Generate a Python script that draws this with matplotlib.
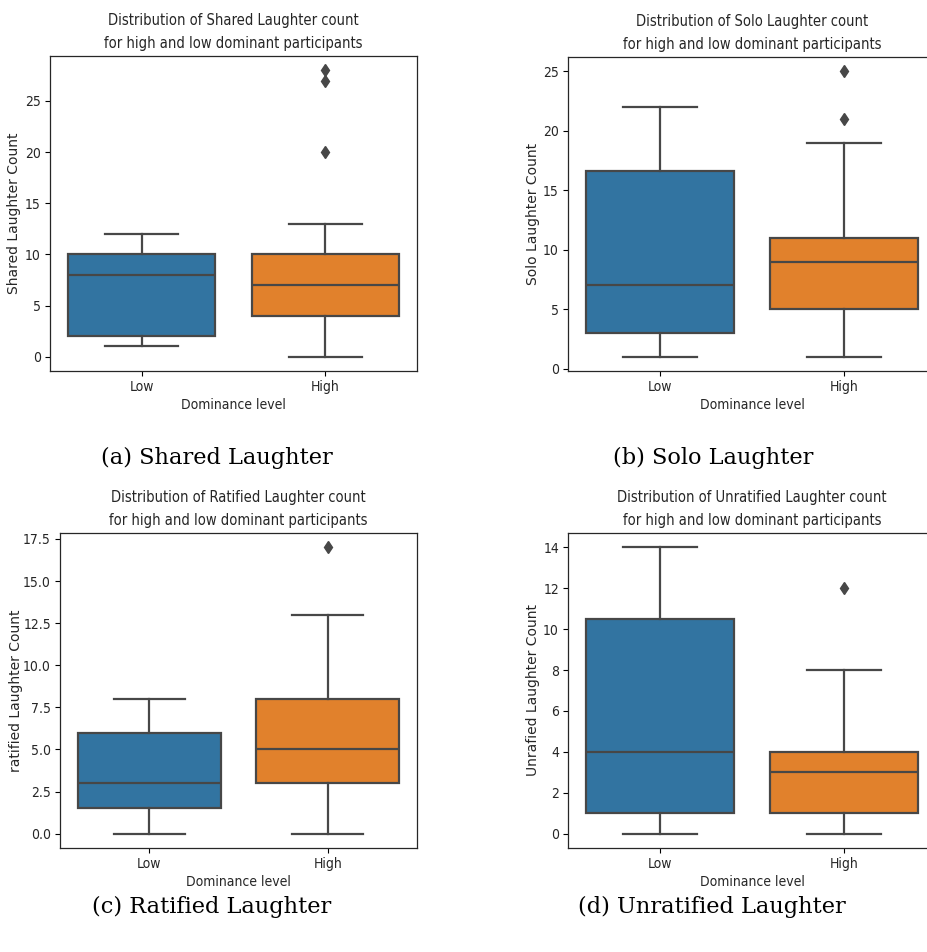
import matplotlib
matplotlib.use("Agg")
import matplotlib.pyplot as plt

plt.rcParams["font.family"] = "DejaVu Sans"
plt.rcParams["font.stretch"] = "condensed"

W, H = 928, 952

GROUPS = ["Low", "High"]
COLORS = ["#3274a1", "#e1812c"]
GRAY = "#474747"

# per group: whisker low, q1, median, q3, whisker high
shared_stats = [[1, 2, 8, 10, 12], [0, 4, 7, 10, 13]]
shared_fliers = [[], [20, 27, 28]]
solo_stats = [[1, 3, 7, 16.6, 22], [1, 5, 9, 11, 19]]
solo_fliers = [[], [21, 25]]
ratified_stats = [[0, 1.5, 3, 6, 8], [0, 3, 5, 8, 13]]
ratified_fliers = [[], [17]]
unratified_stats = [[0, 1, 4, 10.5, 14], [0, 1, 3, 4, 8]]
unratified_fliers = [[], [12]]


def px_axes(fig, left, top, right, bottom):
    return fig.add_axes([left / W, (H - bottom) / H, (right - left) / W, (bottom - top) / H])


def draw_box(ax, stats, fliers, name, ylabel, ylab_x):
    boxes = []
    for s, f, g in zip(stats, fliers, GROUPS):
        boxes.append(dict(whislo=s[0], q1=s[1], med=s[2], q3=s[3], whishi=s[4], fliers=f, label=g))
    lp = dict(color=GRAY, linewidth=1.6)
    art = ax.bxp(boxes, positions=[0, 1], widths=0.8, patch_artist=True,
                 boxprops=dict(edgecolor=GRAY, linewidth=1.6),
                 whiskerprops=lp, capprops=lp, medianprops=lp,
                 flierprops=dict(marker="d", markerfacecolor=GRAY, markeredgecolor=GRAY, markersize=6))
    for patch, c in zip(art["boxes"], COLORS):
        patch.set_facecolor(c)
    ax.set_xlim(-0.5, 1.5)
    ax.set_title(f"Distribution of {name} Laughter count\nfor high and low dominant participants",
                 fontsize=10.5, color="#262626", linespacing=1.65, pad=6)
    ax.set_xlabel("Dominance level", fontsize=10, color="#262626", labelpad=3)
    ax.set_ylabel(ylabel, fontsize=10, color="#262626", fontstretch="normal")
    # label position in pixels left of the spine
    bbox = ax.get_position()
    ax.yaxis.set_label_coords(ylab_x / (bbox.width * W), 0.5)
    ax.tick_params(length=3.5, width=0.8, labelsize=10, labelcolor="#262626", pad=3)
    for sp in ax.spines.values():
        sp.set_linewidth(0.9)
        sp.set_color("#262626")


fig = plt.figure(figsize=(W / 100, H / 100), dpi=100)

ax_a = px_axes(fig, 50, 56, 417, 371)
draw_box(ax_a, shared_stats, shared_fliers, "Shared", "Shared Laughter Count", -29)
ax_b = px_axes(fig, 568, 57, 936, 371)
draw_box(ax_b, solo_stats, solo_fliers, "Solo", "Solo Laughter Count", -28)
ax_c = px_axes(fig, 60, 533, 417, 848)
draw_box(ax_c, ratified_stats, ratified_fliers, "Ratified", "ratified Laughter Count", -37)
ax_d = px_axes(fig, 568, 533, 936, 848)
draw_box(ax_d, unratified_stats, unratified_fliers, "Unratified", "Unrafied Laughter Count", -28)

captions = ["(a) Shared Laughter", "(b) Solo Laughter", "(c) Ratified Laughter", "(d) Unratified Laughter"]
cap_xy = [(217, 458), (713, 458), (212, 907), (712, 907)]
for txt, (x, y) in zip(captions, cap_xy):
    fig.text(x / W, 1 - y / H, txt, family="DejaVu Serif", fontstretch="normal",
             fontsize=16.2, ha="center", va="center", color="black")

fig.savefig("out.png", dpi=100)
